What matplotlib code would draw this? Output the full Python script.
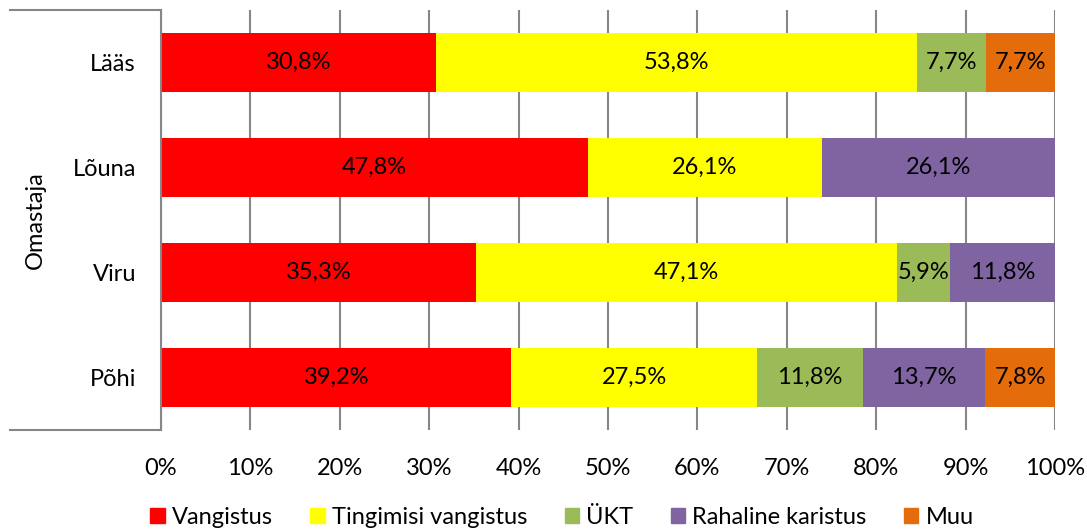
import matplotlib.pyplot as plt
import matplotlib.patches as mpatches
import numpy as np

plt.rcParams['font.family'] = ['Lato', 'DejaVu Sans']

regions = ['Põhi', 'Viru', 'Lõuna', 'Lääs']
series = ['Vangistus', 'Tingimisi vangistus', 'ÜKT', 'Rahaline karistus', 'Muu']
colors = ['#FF0000', '#FFFF00', '#9BBB59', '#8064A2', '#E46C0A']

vangistus = [39.2, 35.3, 47.8, 30.8]
tingimisi = [27.5, 47.1, 26.1, 53.8]
ykt = [11.8, 5.9, 0.0, 7.7]
rahaline = [13.7, 11.8, 26.1, 0.0]
muu = [7.8, 0.0, 0.0, 7.7]

data = np.array([vangistus, tingimisi, ykt, rahaline, muu])
shares = data / data.sum(axis=0) * 100

FS = 17

fig = plt.figure(figsize=(10.87, 5.31), dpi=100)
ax = fig.add_axes([161 / 1087, 101 / 531, 894 / 1087, 420 / 531])

y = np.arange(len(regions))
left = np.zeros(len(regions))
for vals, pct, name, col in zip(data, shares, series, colors):
    ax.barh(y, pct, left=left, height=0.57, color=col, label=name, zorder=2)
    for yi, (v, p, l) in enumerate(zip(vals, pct, left)):
        if v > 0:
            ax.text(l + p / 2, yi, f"{v:.1f}%".replace('.', ','), ha='center',
                    va='center', fontsize=FS, color='black', zorder=3)
    left += pct

ax.set_xlim(0, 100)
ax.set_ylim(-0.5, len(regions) - 0.5)
ax.set_xticks(np.arange(0, 101, 10))
ax.set_xticklabels([f"{t}%" for t in range(0, 101, 10)], fontsize=FS)
ax.set_yticks(y)
ax.set_yticklabels(regions, fontsize=FS)
ax.tick_params(axis='x', length=0, pad=20)
ax.tick_params(axis='y', length=0, pad=18)
ax.grid(axis='x', color='#868686', linewidth=1.5, zorder=0)

for side in ['top', 'right', 'bottom']:
    ax.spines[side].set_visible(False)
ax.spines['left'].set_color('#868686')
ax.spines['left'].set_linewidth(1.5)

# outer frame of the two-level category axis
x0 = (10 - 161) / 894
for yy in (0, 1):
    ax.plot([x0, 0], [yy, yy], transform=ax.transAxes, color='#868686',
            linewidth=1.5, clip_on=False)
ax.text((35 - 161) / 894, 0.5, 'Omastaja', transform=ax.transAxes, rotation=90,
        ha='center', va='center', fontsize=FS)

handles = [mpatches.Patch(color=c, label=s) for c, s in zip(colors, series)]
fig.legend(handles=handles, loc='center', bbox_to_anchor=(562 / 1087, 1 - 517 / 531),
           ncol=5, frameon=False, fontsize=FS, handlelength=0.6, handleheight=0.6,
           handletextpad=0.3, columnspacing=1.6)

fig.savefig('out.png', dpi=100)
